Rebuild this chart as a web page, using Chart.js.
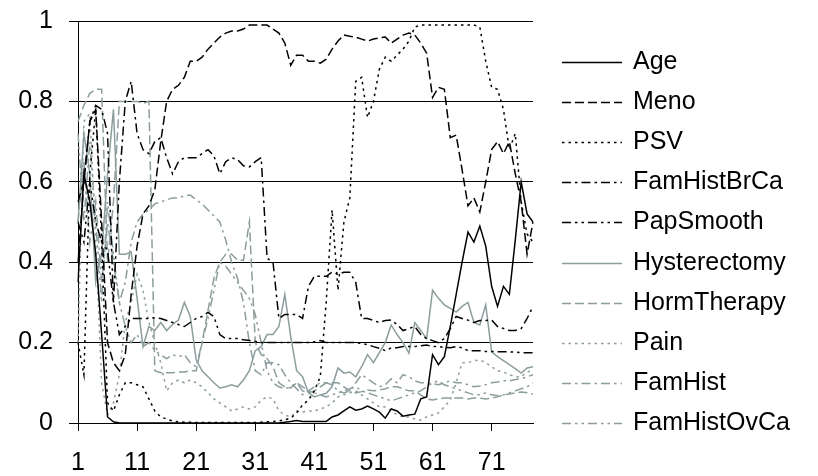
<!DOCTYPE html>
<html>
<head>
<meta charset="utf-8">
<script src="https://cdn.jsdelivr.net/npm/chart.js@4/dist/chart.umd.min.js"></script>
<style>
  html, body { margin: 0; padding: 0; background: #ffffff; }
  canvas { display: block; }
</style>
</head>
<body>
<canvas id="chart" width="818" height="476"></canvas>
<script>
// Position index along the x axis
const categories = ['1','2','3','4','5','6','7','8','9','10','11','12','13','14','15','16','17','18','19','20',
  '21','22','23','24','25','26','27','28','29','30','31','32','33','34','35','36','37','38','39','40',
  '41','42','43','44','45','46','47','48','49','50','51','52','53','54','55','56','57','58','59','60',
  '61','62','63','64','65','66','67','68','69','70','71','72','73','74','75','76','77','78'];

const xTickLabels = ['1','11','21','31','41','51','61','71'];
const yTickLabels = ['0','0.2','0.4','0.6','0.8','1'];

const age = [0.35,0.62,0.55,0.42,0.22,0.015,0.003,0,0,0,
  0,0,0,0,0,0,0,0,0,0,
  0,0,0,0,0,0,0,0,0,0,
  0,0,0,0,0,0.002,0.004,0.006,0.004,0.004,
  0.004,0.004,0.004,0.015,0.02,0.03,0.04,0.032,0.035,0.042,
  0.035,0.027,0.012,0.035,0.03,0.017,0.02,0.022,0.06,0.065,
  0.17,0.145,0.165,0.24,0.32,0.4,0.475,0.45,0.49,0.44,
  0.34,0.29,0.34,0.32,0.455,0.6,0.52,0.5];

const meno = [0.55,0.6,0.75,0.78,0.5,0.2,0.15,0.13,0.17,0.32,
  0.44,0.52,0.54,0.58,0.7,0.8,0.83,0.84,0.86,0.9,
  0.9,0.91,0.93,0.945,0.96,0.97,0.975,0.975,0.98,0.99,
  0.99,0.99,0.99,0.98,0.97,0.945,0.89,0.915,0.915,0.9,
  0.9,0.895,0.905,0.93,0.95,0.965,0.962,0.96,0.955,0.95,
  0.955,0.958,0.96,0.945,0.955,0.965,0.97,0.965,0.945,0.92,
  0.81,0.835,0.83,0.71,0.716,0.63,0.54,0.56,0.525,0.6,
  0.68,0.7,0.67,0.7,0.62,0.55,0.42,0.5];

const psv = [0.2,0.12,0.62,0.78,0.45,0.05,0.03,0.07,0.1,0.1,
  0.095,0.09,0.06,0.03,0.015,0.01,0.005,0.003,0.002,0.002,
  0.001,0.001,0.001,0.001,0.001,0.001,0.001,0.001,0.001,0.001,
  0.001,0.002,0.003,0.004,0.005,0.008,0.012,0.025,0.045,0.057,
  0.08,0.115,0.3,0.53,0.33,0.5,0.56,0.85,0.86,0.76,
  0.8,0.88,0.91,0.9,0.915,0.93,0.95,0.985,0.99,0.99,
  0.99,0.99,0.99,0.99,0.99,0.99,0.99,0.99,0.985,0.9,
  0.835,0.83,0.78,0.68,0.72,0.55,0.47,0.45];

const famHistBrCa = [0.4,0.6,0.75,0.79,0.78,0.72,0.3,0.6,0.8,0.85,
  0.72,0.68,0.67,0.7,0.71,0.66,0.62,0.65,0.66,0.66,
  0.66,0.67,0.68,0.665,0.62,0.65,0.66,0.655,0.64,0.637,
  0.65,0.66,0.41,0.4,0.26,0.27,0.27,0.27,0.26,0.34,
  0.365,0.365,0.365,0.375,0.37,0.375,0.375,0.35,0.26,0.26,
  0.255,0.25,0.255,0.256,0.245,0.23,0.235,0.24,0.22,0.21,
  0.205,0.2,0.21,0.235,0.265,0.26,0.256,0.25,0.255,0.255,
  0.256,0.24,0.235,0.23,0.23,0.235,0.26,0.29];

const papSmooth = [0.5,0.45,0.6,0.5,0.45,0.43,0.3,0.22,0.24,0.26,
  0.26,0.26,0.26,0.262,0.26,0.255,0.25,0.245,0.24,0.25,
  0.26,0.265,0.275,0.265,0.22,0.21,0.21,0.21,0.207,0.205,
  0.203,0.2,0.2,0.2,0.2,0.2,0.2,0.2,0.2,0.2,
  0.202,0.205,0.2,0.2,0.2,0.2,0.2,0.2,0.198,0.195,
  0.19,0.186,0.18,0.187,0.187,0.19,0.19,0.19,0.192,0.194,
  0.19,0.19,0.188,0.187,0.19,0.187,0.18,0.18,0.18,0.178,
  0.178,0.177,0.177,0.177,0.176,0.175,0.175,0.175];

const hysterectomy = [0.5,0.72,0.62,0.35,0.42,0.62,0.78,0.42,0.42,0.425,
  0.31,0.19,0.24,0.23,0.25,0.23,0.245,0.256,0.3,0.265,
  0.157,0.13,0.115,0.1,0.087,0.09,0.095,0.09,0.107,0.13,
  0.18,0.19,0.22,0.22,0.24,0.32,0.214,0.13,0.115,0.075,
  0.065,0.07,0.074,0.09,0.137,0.124,0.127,0.115,0.14,0.17,
  0.15,0.175,0.2,0.244,0.22,0.2,0.174,0.25,0.23,0.21,
  0.33,0.31,0.294,0.285,0.276,0.29,0.3,0.25,0.244,0.294,
  0.177,0.165,0.155,0.145,0.135,0.124,0.137,0.14];

const hormTherapy = [0.75,0.79,0.82,0.83,0.83,0.4,0.55,0.8,0.8,0.8,
  0.8,0.795,0.8,0.13,0.125,0.125,0.125,0.127,0.127,0.13,
  0.13,0.2,0.28,0.36,0.4,0.42,0.42,0.405,0.405,0.5,
  0.2,0.17,0.16,0.14,0.1,0.09,0.087,0.1,0.08,0.075,
  0.08,0.09,0.1,0.1,0.1,0.09,0.08,0.075,0.078,0.082,
  0.08,0.082,0.085,0.09,0.09,0.085,0.08,0.08,0.07,0.06,
  0.057,0.06,0.062,0.062,0.062,0.062,0.06,0.062,0.062,0.06,
  0.062,0.065,0.07,0.072,0.075,0.077,0.075,0.072];

const pain = [0.2,0.75,0.77,0.45,0.1,0.02,0.05,0.12,0.25,0.3,
  0.37,0.33,0.25,0.2,0.15,0.08,0.1,0.107,0.1,0.107,
  0.1,0.09,0.075,0.06,0.05,0.04,0.03,0.035,0.04,0.035,
  0.04,0.057,0.065,0.06,0.03,0.02,0.015,0.03,0.027,0.03,
  0.03,0.035,0.04,0.05,0.065,0.07,0.075,0.08,0.07,0.06,
  0.05,0.04,0.04,0.03,0.02,0.015,0.015,0.01,0.007,0.015,
  0.02,0.025,0.04,0.057,0.1,0.15,0.15,0.155,0.157,0.15,
  0.14,0.13,0.127,0.12,0.115,0.115,0.127,0.13];

const famHist = [0.5,0.65,0.45,0.55,0.35,0.5,0.4,0.3,0.35,0.45,
  0.5,0.52,0.53,0.545,0.55,0.555,0.56,0.56,0.565,0.567,
  0.555,0.545,0.53,0.515,0.5,0.455,0.4,0.36,0.3,0.2,
  0.13,0.12,0.15,0.15,0.145,0.12,0.1,0.085,0.07,0.08,
  0.09,0.1,0.1,0.095,0.08,0.075,0.08,0.1,0.12,0.11,
  0.1,0.09,0.095,0.11,0.1,0.12,0.115,0.105,0.1,0.1,
  0.098,0.095,0.1,0.105,0.1,0.1,0.095,0.09,0.092,0.095,
  0.1,0.102,0.105,0.105,0.108,0.11,0.115,0.12];

const famHistOvCa = [0.72,0.5,0.7,0.5,0.3,0.55,0.42,0.3,0.24,0.2,
  0.22,0.19,0.2,0.18,0.17,0.16,0.17,0.165,0.17,0.15,
  0.14,0.2,0.26,0.33,0.4,0.39,0.37,0.35,0.33,0.31,
  0.27,0.2,0.13,0.1,0.09,0.085,0.09,0.1,0.09,0.08,
  0.075,0.07,0.065,0.07,0.075,0.08,0.085,0.09,0.08,0.075,
  0.07,0.065,0.06,0.055,0.06,0.065,0.07,0.075,0.08,0.09,
  0.1,0.105,0.095,0.09,0.085,0.08,0.075,0.07,0.07,0.075,
  0.07,0.068,0.07,0.075,0.08,0.085,0.09,0.1];

// Line styles
const BLACK = '#000000';
const GREY = '#8c9d9d';
const SOLID = [];
const DASHED = [9, 4];
const DOTTED = [2.5, 4];
const DASH_DOT = [9, 4, 2.5, 4];
const DASH_DOT_DOT = [9, 4, 2.5, 4, 2.5, 4];

const FONT_FAMILY = '"Liberation Sans", Arial, Helvetica, sans-serif';

function series(label, data, color, dash) {
  return {
    label: label,
    data: data,
    borderColor: color,
    backgroundColor: color,
    borderWidth: 1.5,
    borderDash: dash,
    pointRadius: 0,
    pointHoverRadius: 0,
    tension: 0,
    fill: false
  };
}

const datasets = [
  series('Age', age, BLACK, SOLID),
  series('Meno', meno, BLACK, DASHED),
  series('PSV', psv, BLACK, DOTTED),
  series('FamHistBrCa', famHistBrCa, BLACK, DASH_DOT),
  series('PapSmooth', papSmooth, BLACK, DASH_DOT_DOT),
  series('Hysterectomy', hysterectomy, GREY, SOLID),
  series('HormTherapy', hormTherapy, GREY, DASHED),
  series('Pain', pain, GREY, DOTTED),
  series('FamHist', famHist, GREY, DASH_DOT),
  series('FamHistOvCa', famHistOvCa, GREY, DASH_DOT_DOT)
];

// Line-sample legend in the right margin, one row per dataset,
// stroked with the dataset's own colour, width and dash pattern.
const lineKey = {
  id: 'lineKey',
  afterDraw(chart, args, opts) {
    const ctx = chart.ctx;
    const left = chart.chartArea.right + opts.gap;
    ctx.save();
    ctx.font = opts.fontSize + 'px ' + FONT_FAMILY;
    ctx.textBaseline = 'middle';
    ctx.textAlign = 'left';
    chart.data.datasets.forEach((ds, i) => {
      const y = Math.round(opts.top + i * opts.rowHeight) + 0.5;
      ctx.beginPath();
      ctx.setLineDash(ds.borderDash || []);
      ctx.lineWidth = ds.borderWidth;
      ctx.strokeStyle = ds.borderColor;
      ctx.moveTo(left, y);
      ctx.lineTo(left + opts.sampleWidth, y);
      ctx.stroke();
      ctx.setLineDash([]);
      ctx.fillStyle = '#000000';
      ctx.fillText(ds.label, left + opts.sampleWidth + opts.textGap, y);
    });
    ctx.restore();
  }
};

new Chart(document.getElementById('chart'), {
  type: 'line',
  data: { labels: categories, datasets: datasets },
  options: {
    responsive: false,
    animation: false,
    devicePixelRatio: 1,
    font: { family: FONT_FAMILY },
    layout: { padding: { top: 21, right: 285, bottom: 0, left: 0 } },
    plugins: {
      tooltip: { enabled: false },
      legend: { display: false },
      lineKey: { gap: 29, top: 62, rowHeight: 40.1, sampleWidth: 60, textGap: 11, fontSize: 25 }
    },
    scales: {
      x: {
        type: 'category',
        offset: false,
        afterFit: (s) => { s.height = 53; },
        grid: {
          drawOnChartArea: false,
          drawTicks: true,
          tickLength: 8,
          color: '#000000',
          lineWidth: 1
        },
        border: { display: true, color: '#000000', width: 1 },
        ticks: {
          autoSkip: false,
          maxRotation: 0,
          minRotation: 0,
          padding: 17,
          color: '#000000',
          font: { family: FONT_FAMILY, size: 25 },
          callback: function (value, index) {
            const lab = categories[index];
            return xTickLabels.includes(lab) ? lab : null;
          }
        }
      },
      y: {
        min: 0,
        max: 1,
        afterFit: (s) => { s.width = 78; },
        grid: {
          color: '#000000',
          lineWidth: 1,
          tickLength: 9,
          drawTicks: true
        },
        border: { display: true, color: '#000000', width: 1 },
        ticks: {
          stepSize: 0.2,
          padding: 16,
          color: '#000000',
          font: { family: FONT_FAMILY, size: 25, lineHeight: 0.4 },
          callback: function (value, index) { return yTickLabels[index]; }
        }
      }
    }
  },
  plugins: [lineKey]
});
</script>
</body>
</html>
